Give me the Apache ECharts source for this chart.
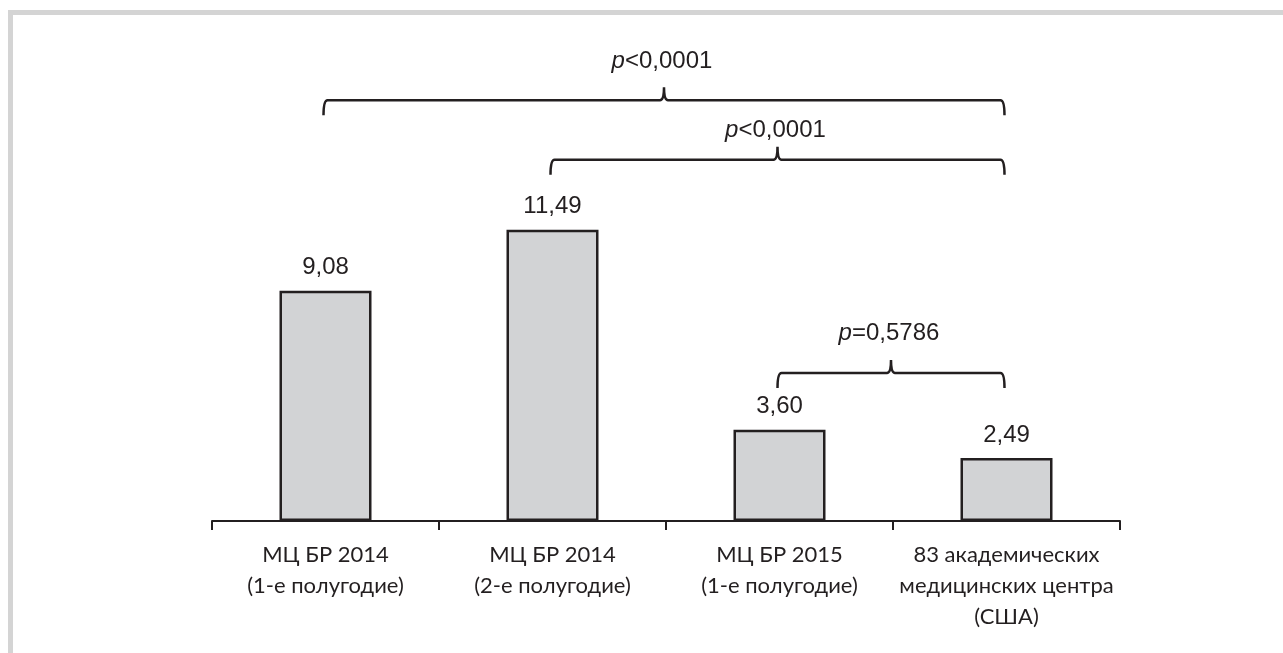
<!DOCTYPE html>
<html>
<head>
    <meta charset="UTF-8">
    <title>МЦ БР</title>
    <script src="https://cdn.jsdelivr.net/npm/echarts@6/dist/echarts.min.js"></script>
    <style>
        html, body { margin: 0; padding: 0; background: #fff; }
        #main { width: 1283px; height: 653px; }
    </style>
</head>
<body>
    <div id="main"></div>
    <script>
        // категории и значения
        var categories = [
            'МЦ БР 2014\n(1-е полугодие)',
            'МЦ БР 2014\n(2-е полугодие)',
            'МЦ БР 2015\n(1-е полугодие)',
            '83 академических\nмедицинских центра\n(США)'
        ];
        var values = [9.08, 11.49, 3.60, 2.49];

        // скобки сравнения: [от, уровень, до, уровень подписи]
        var brackets = [
            [0, 16.6, 3, 18.15],
            [1, 14.25, 3, 15.4],
            [2, 5.84, 3, 7.4]
        ];
        var pLabels = ['{i|p}<0,0001', '{i|p}<0,0001', '{i|p}=0,5786'];

        var ink = '#231f20';
        var chart = echarts.init(document.getElementById('main'));

        function renderBracket(params, api) {
            var a = api.coord([api.value(0), api.value(1)]);
            var b = api.coord([api.value(2), api.value(1)]);
            var t = api.coord([0, api.value(3)]);
            var x1 = a[0] - 2, x2 = b[0] - 2, y = a[1], xc = (x1 + x2) / 2;
            var d = 'M' + x1 + ' ' + (y + 15) +
                ' Q' + x1 + ' ' + y + ' ' + (x1 + 4) + ' ' + y +
                ' L' + (xc - 4) + ' ' + y +
                ' Q' + xc + ' ' + y + ' ' + xc + ' ' + (y - 13) +
                ' Q' + xc + ' ' + y + ' ' + (xc + 4) + ' ' + y +
                ' L' + (x2 - 4) + ' ' + y +
                ' Q' + x2 + ' ' + y + ' ' + x2 + ' ' + (y + 15);
            return {
                type: 'group',
                children: [{
                    type: 'path',
                    shape: { pathData: d },
                    style: { fill: 'none', stroke: ink, lineWidth: 2.5 }
                }, {
                    type: 'text',
                    x: xc - 2,
                    y: t[1],
                    style: {
                        text: pLabels[params.dataIndex],
                        rich: { i: { fontStyle: 'italic', fontSize: 24, fontFamily: 'Liberation Sans', fill: ink } },
                        fontSize: 24,
                        fontFamily: 'Liberation Sans',
                        fill: ink,
                        align: 'center',
                        verticalAlign: 'middle'
                    }
                }]
            };
        }

        var option = {
            animation: false,
            graphic: [
                { type: 'rect', shape: { x: 8, y: 10, width: 1275, height: 5 }, style: { fill: '#d4d4d4' } },
                { type: 'rect', shape: { x: 8, y: 10, width: 5, height: 643 }, style: { fill: '#d4d4d4' } }
            ],
            grid: { left: 212, right: 163, top: 14, bottom: 132 },
            xAxis: {
                type: 'category',
                data: categories,
                axisLine: { lineStyle: { color: ink, width: 2 } },
                axisTick: { show: true, length: 9, lineStyle: { color: ink, width: 2 } },
                axisLabel: {
                    margin: 18,
                    fontSize: 22,
                    lineHeight: 31,
                    fontFamily: 'Lato',
                    color: ink,
                    interval: 0
                }
            },
            yAxis: {
                type: 'value',
                min: 0,
                max: 20,
                show: false,
                splitLine: { show: false }
            },
            series: [{
                type: 'bar',
                data: values,
                barWidth: 92,
                itemStyle: { color: '#d2d3d5', borderColor: ink, borderWidth: 2.5 },
                label: {
                    show: true,
                    position: 'top',
                    distance: 11,
                    fontSize: 24,
                    fontFamily: 'Liberation Sans',
                    color: ink,
                    formatter: function (p) { return p.value.toFixed(2).replace('.', ','); }
                }
            }, {
                type: 'custom',
                renderItem: renderBracket,
                data: brackets,
                encode: { x: [0, 2], y: [1, 3] },
                clip: false,
                silent: true,
                z: 5
            }]
        };
        chart.setOption(option);
    </script>
</body>
</html>
